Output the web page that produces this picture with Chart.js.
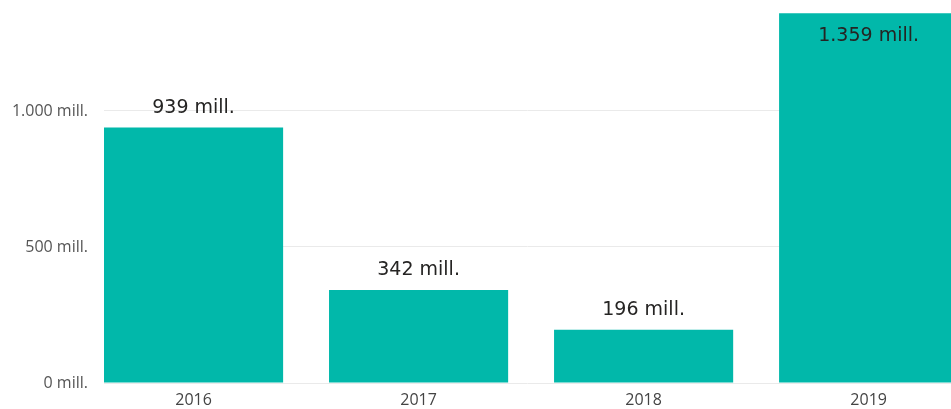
<!DOCTYPE html>
<html>
<head>
<meta charset="utf-8">
<script src="https://cdn.jsdelivr.net/npm/chart.js@4"></script>
<style>
  html, body { margin: 0; padding: 0; background: #fff; overflow: hidden; }
</style>
</head>
<body>
<canvas id="chart" width="951" height="409"></canvas>
<script>
// data
const years = ['2016', '2017', '2018', '2019'];
const amounts = [939, 342, 196, 1359];   // mill.
const yTicks = [0, 500, 1000];

function fmt(v) {
    return String(v).replace(/\B(?=(\d{3})+(?!\d))/g, '.') + ' mill.';
}

// labels above the bar, or inside it when there is no room on top
const barLabels = {
    id: 'barLabels',
    afterDatasetsDraw(chart) {
        const ctx = chart.ctx;
        const meta = chart.getDatasetMeta(0);
        ctx.save();
        ctx.font = '19px "DejaVu Sans"';
        ctx.fillStyle = '#252423';
        ctx.textAlign = 'center';
        ctx.textBaseline = 'middle';
        meta.data.forEach((bar, i) => {
            let y = bar.y - 20;
            if (y - 10 < chart.chartArea.top) y = bar.y + 23;
            ctx.fillText(fmt(amounts[i]), bar.x, y);
        });
        ctx.restore();
    }
};

const ctx = document.getElementById('chart').getContext('2d');
new Chart(ctx, {
    type: 'bar',
    data: {
        datasets: [{
            data: amounts.map((v, i) => ({ x: i, y: v })),
            backgroundColor: '#01B8AA',
            borderWidth: 0,
            barPercentage: 0.796,
            categoryPercentage: 1
        }]
    },
    options: {
        responsive: false,
        animation: false,
        layout: { padding: 0 },
        plugins: {
            legend: { display: false },
            tooltip: { enabled: false }
        },
        scales: {
            x: {
                type: 'linear',
                offset: false,
                min: -0.398,
                max: 3.366,
                grid: { display: false, drawTicks: false },
                border: { display: false },
                afterBuildTicks(s) { s.ticks = years.map((y, i) => ({ value: i })); },
                ticks: {
                    autoSkip: false,
                    maxRotation: 0,
                    padding: 8,
                    color: '#444',
                    font: { family: '"Open Sans"', size: 16 },
                    callback: v => years[v] ?? ''
                },
                afterFit(s) { s.height = 26; s.paddingLeft = 0; s.paddingRight = 0; }
            },
            y: {
                min: 0,
                max: 1408,
                grid: { color: '#eaeaea', drawTicks: false },
                border: { display: false },
                afterBuildTicks(s) { s.ticks = yTicks.map(v => ({ value: v })); },
                ticks: {
                    padding: 16,
                    color: '#555',
                    font: { family: '"Open Sans"', size: 16 },
                    callback: v => fmt(v)
                },
                afterFit(s) { s.width = 104; s.paddingTop = 0; s.paddingBottom = 0; }
            }
        }
    },
    plugins: [barLabels]
});
</script>
</body>
</html>
